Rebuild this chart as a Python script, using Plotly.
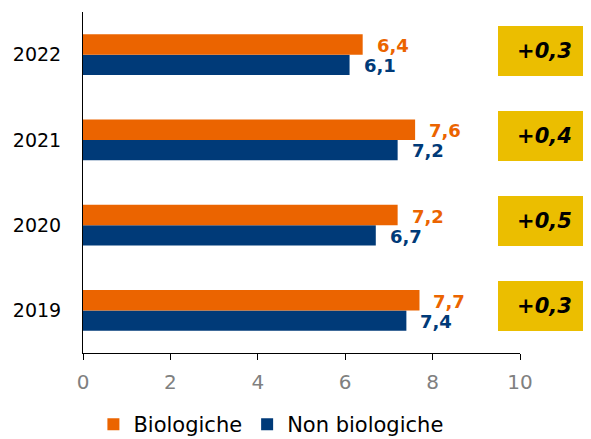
import plotly.graph_objects as go

years = ["2019", "2020", "2021", "2022"]
bio = [7.7, 7.2, 7.6, 6.4]
non_bio = [7.4, 6.7, 7.2, 6.1]
deltas = ["+0,3", "+0,5", "+0,4", "+0,3"]

orange = "#EB6400"
blue = "#003A78"
gold = "#EBBE00"
font_family = "DejaVu Sans, sans-serif"

fig = go.Figure()

# blue first so it sits below orange in each group
fig.add_trace(go.Bar(
    y=years, x=non_bio, orientation="h", name="Non biologiche",
    marker=dict(color=blue, line=dict(width=0)),
))
fig.add_trace(go.Bar(
    y=years, x=bio, orientation="h", name="Biologiche",
    marker=dict(color=orange, line=dict(width=0)),
))

# value labels (category index used for y, names look numeric)
for i, (vb, vn) in enumerate(zip(bio, non_bio)):
    fig.add_annotation(x=vb, y=i, xref="x", yref="y", text="<b>" + f"{vb:.1f}".replace(".", ",") + "</b>",
                       showarrow=False, xanchor="left", xshift=12, yshift=9,
                       font=dict(color=orange, size=18, family=font_family))
    fig.add_annotation(x=vn, y=i, xref="x", yref="y", text="<b>" + f"{vn:.1f}".replace(".", ",") + "</b>",
                       showarrow=False, xanchor="left", xshift=12, yshift=-11,
                       font=dict(color=blue, size=18, family=font_family))

# difference boxes, to the right of the plot area
for i, d in enumerate(deltas):
    fig.add_annotation(x=1.056, y=i, xref="paper", yref="y", text=f"<b><i>{d}</i></b>",
                       showarrow=False, width=93, height=50, bgcolor=gold,
                       borderpad=0, borderwidth=0,
                       xanchor="center", yanchor="middle", yshift=4,
                       font=dict(color="black", size=21, family=font_family))

# page body has an 8px margin, so the figure is sized 8px smaller
fig.update_layout(
    width=583, height=431,
    margin=dict(l=75, r=71, t=4, b=86, autoexpand=False),
    paper_bgcolor="white", plot_bgcolor="white",
    barmode="group", bargap=0.52, bargroupgap=0,
    font=dict(family=font_family, size=17, color="black"),
    legend=dict(orientation="h", traceorder="reversed", x=0.43, xanchor="center",
                y=-0.21, yanchor="middle", font=dict(size=21, color="black")),
    xaxis=dict(range=[0, 10], tickvals=[0, 2, 4, 6, 8, 10], showgrid=False, zeroline=False,
               showline=True, linecolor="black", linewidth=1, ticks="outside", ticklen=6,
               tickcolor="black", tickfont=dict(color="#808080", size=20), automargin=False,
               ticklabelstandoff=5),
    yaxis=dict(type="category", categoryorder="array", categoryarray=years, showgrid=False,
               range=[-0.5, 3.5], autorange=False, automargin=False,
               showline=True, linecolor="black", linewidth=1, ticks="", ticklabelstandoff=17,
               tickfont=dict(color="black", size=19)),
)

fig.write_html("out.html")
